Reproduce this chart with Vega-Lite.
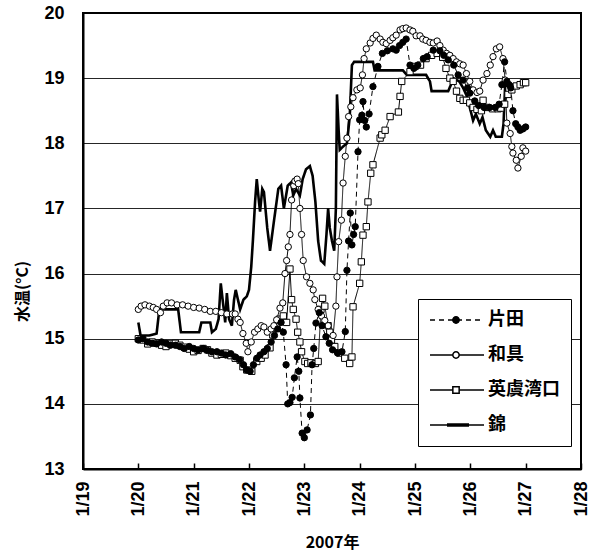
{
"$schema": "https://vega.github.io/schema/vega-lite/v6.json",
"width": 498, "height": 456,
"autosize": {"type": "none"},
"padding": {"left": 83, "top": 13, "right": 8, "bottom": 85},
"config": {"view": {"stroke": "black", "strokeWidth": 2}, "font": "Liberation Sans"},
"data": {"values": [
{"site":"錦","d":20.00,"t":15.25},{"site":"錦","d":20.04,"t":15.05},{"site":"錦","d":20.2,"t":15.05},{"site":"錦","d":20.33,"t":15.08},{"site":"錦","d":20.38,"t":15.45},{"site":"錦","d":20.72,"t":15.45},{"site":"錦","d":20.77,"t":15.1},{"site":"錦","d":21.1,"t":15.1},{"site":"錦","d":21.14,"t":15.25},{"site":"錦","d":21.3,"t":15.25},{"site":"錦","d":21.33,"t":15.1},{"site":"錦","d":21.4,"t":15.15},{"site":"錦","d":21.45,"t":15.3},{"site":"錦","d":21.49,"t":15.85},{"site":"錦","d":21.53,"t":15.55},{"site":"錦","d":21.57,"t":15.25},{"site":"錦","d":21.6,"t":15.7},{"site":"錦","d":21.64,"t":15.3},{"site":"錦","d":21.69,"t":15.2},{"site":"錦","d":21.73,"t":15.6},{"site":"錦","d":21.76,"t":15.75},{"site":"錦","d":21.8,"t":15.6},{"site":"錦","d":21.84,"t":15.45},{"site":"錦","d":21.9,"t":15.6},{"site":"錦","d":21.96,"t":15.65},{"site":"錦","d":22.0,"t":15.75},{"site":"錦","d":22.04,"t":16.1},{"site":"錦","d":22.07,"t":16.5},{"site":"錦","d":22.11,"t":17.1},{"site":"錦","d":22.14,"t":17.45},{"site":"錦","d":22.18,"t":17.1},{"site":"錦","d":22.2,"t":16.95},{"site":"錦","d":22.24,"t":17.3},{"site":"錦","d":22.27,"t":17.25},{"site":"錦","d":22.33,"t":16.7},{"site":"錦","d":22.38,"t":16.35},{"site":"錦","d":22.45,"t":16.8},{"site":"錦","d":22.53,"t":17.3},{"site":"錦","d":22.58,"t":17.35},{"site":"錦","d":22.63,"t":17.0},{"site":"錦","d":22.7,"t":17.35},{"site":"錦","d":22.76,"t":17.4},{"site":"錦","d":22.8,"t":17.2},{"site":"錦","d":22.85,"t":17.3},{"site":"錦","d":22.92,"t":17.2},{"site":"錦","d":22.97,"t":17.45},{"site":"錦","d":23.03,"t":17.6},{"site":"錦","d":23.1,"t":17.65},{"site":"錦","d":23.15,"t":17.5},{"site":"錦","d":23.2,"t":17.1},{"site":"錦","d":23.25,"t":16.5},{"site":"錦","d":23.3,"t":16.2},{"site":"錦","d":23.36,"t":16.15},{"site":"錦","d":23.4,"t":16.6},{"site":"錦","d":23.43,"t":17.0},{"site":"錦","d":23.46,"t":16.7},{"site":"錦","d":23.5,"t":16.5},{"site":"錦","d":23.54,"t":16.35},{"site":"錦","d":23.57,"t":17.0},{"site":"錦","d":23.59,"t":18.75},{"site":"錦","d":23.62,"t":18.2},{"site":"錦","d":23.64,"t":17.9},{"site":"錦","d":23.7,"t":17.95},{"site":"錦","d":23.77,"t":18.0},{"site":"錦","d":23.82,"t":18.4},{"site":"錦","d":23.86,"t":19.2},{"site":"錦","d":23.9,"t":19.25},{"site":"錦","d":24.24,"t":19.25},{"site":"錦","d":24.27,"t":19.12},{"site":"錦","d":24.78,"t":19.12},{"site":"錦","d":24.85,"t":19.05},{"site":"錦","d":25.2,"t":19.05},{"site":"錦","d":25.27,"t":18.95},{"site":"錦","d":25.3,"t":18.8},{"site":"錦","d":25.6,"t":18.8},{"site":"錦","d":25.65,"t":18.9},{"site":"錦","d":25.69,"t":19.0},{"site":"錦","d":25.8,"t":18.95},{"site":"錦","d":25.87,"t":18.85},{"site":"錦","d":25.95,"t":18.7},{"site":"錦","d":25.99,"t":18.55},{"site":"錦","d":26.05,"t":18.35},{"site":"錦","d":26.1,"t":18.45},{"site":"錦","d":26.17,"t":18.3},{"site":"錦","d":26.22,"t":18.4},{"site":"錦","d":26.28,"t":18.2},{"site":"錦","d":26.36,"t":18.1},{"site":"錦","d":26.41,"t":18.2},{"site":"錦","d":26.46,"t":18.1},{"site":"錦","d":26.57,"t":18.1},{"site":"錦","d":26.6,"t":18.3},{"site":"錦","d":26.63,"t":18.9},{"site":"錦","d":27.0,"t":18.9},
{"site":"英虞湾口","d":20.0,"t":15.0},{"site":"英虞湾口","d":20.08,"t":14.98},{"site":"英虞湾口","d":20.17,"t":14.92},{"site":"英虞湾口","d":20.25,"t":14.95},{"site":"英虞湾口","d":20.33,"t":14.93},{"site":"英虞湾口","d":20.42,"t":14.9},{"site":"英虞湾口","d":20.5,"t":14.88},{"site":"英虞湾口","d":20.58,"t":14.92},{"site":"英虞湾口","d":20.67,"t":14.93},{"site":"英虞湾口","d":20.75,"t":14.9},{"site":"英虞湾口","d":20.83,"t":14.87},{"site":"英虞湾口","d":20.92,"t":14.84},{"site":"英虞湾口","d":21.0,"t":14.8},{"site":"英虞湾口","d":21.08,"t":14.82},{"site":"英虞湾口","d":21.17,"t":14.85},{"site":"英虞湾口","d":21.25,"t":14.83},{"site":"英虞湾口","d":21.33,"t":14.78},{"site":"英虞湾口","d":21.42,"t":14.75},{"site":"英虞湾口","d":21.5,"t":14.76},{"site":"英虞湾口","d":21.58,"t":14.78},{"site":"英虞湾口","d":21.67,"t":14.74},{"site":"英虞湾口","d":21.75,"t":14.7},{"site":"英虞湾口","d":21.84,"t":14.67},{"site":"英虞湾口","d":21.89,"t":14.57},{"site":"英虞湾口","d":21.96,"t":14.52},{"site":"英虞湾口","d":22.05,"t":14.5},{"site":"英虞湾口","d":22.14,"t":14.65},{"site":"英虞湾口","d":22.22,"t":14.7},{"site":"英虞湾口","d":22.29,"t":14.75},{"site":"英虞湾口","d":22.38,"t":14.86},{"site":"英虞湾口","d":22.43,"t":15.06},{"site":"英虞湾口","d":22.5,"t":15.18},{"site":"英虞湾口","d":22.55,"t":15.3},{"site":"英虞湾口","d":22.62,"t":15.35},{"site":"英虞湾口","d":22.68,"t":15.25},{"site":"英虞湾口","d":22.74,"t":16.07},{"site":"英虞湾口","d":22.77,"t":15.6},{"site":"英虞湾口","d":22.8,"t":15.45},{"site":"英虞湾口","d":22.85,"t":15.3},{"site":"英虞湾口","d":22.88,"t":15.1},{"site":"英虞湾口","d":22.92,"t":14.95},{"site":"英虞湾口","d":22.95,"t":14.8},{"site":"英虞湾口","d":23.01,"t":14.65},{"site":"英虞湾口","d":23.06,"t":14.62},{"site":"英虞湾口","d":23.12,"t":14.63},{"site":"英虞湾口","d":23.2,"t":14.62},{"site":"英虞湾口","d":23.25,"t":14.65},{"site":"英虞湾口","d":23.3,"t":15.45},{"site":"英虞湾口","d":23.33,"t":15.62},{"site":"英虞湾口","d":23.37,"t":15.5},{"site":"英虞湾口","d":23.43,"t":15.2},{"site":"英虞湾口","d":23.46,"t":15.1},{"site":"英虞湾口","d":23.49,"t":14.98},{"site":"英虞湾口","d":23.55,"t":14.88},{"site":"英虞湾口","d":23.64,"t":14.78},{"site":"英虞湾口","d":23.73,"t":14.7},{"site":"英虞湾口","d":23.82,"t":14.62},{"site":"英虞湾口","d":23.86,"t":14.72},{"site":"英虞湾口","d":23.88,"t":15.49},{"site":"英虞湾口","d":24.0,"t":15.85},{"site":"英虞湾口","d":24.03,"t":16.18},{"site":"英虞湾口","d":24.06,"t":16.59},{"site":"英虞湾口","d":24.12,"t":16.72},{"site":"英虞湾口","d":24.15,"t":17.1},{"site":"英虞湾口","d":24.2,"t":17.54},{"site":"英虞湾口","d":24.24,"t":17.67},{"site":"英虞湾口","d":24.37,"t":18.08},{"site":"英虞湾口","d":24.4,"t":18.13},{"site":"英虞湾口","d":24.46,"t":18.2},{"site":"英虞湾口","d":24.55,"t":18.41},{"site":"英虞湾口","d":24.7,"t":18.48},{"site":"英虞湾口","d":24.73,"t":18.72},{"site":"英虞湾口","d":24.76,"t":18.95},{"site":"英虞湾口","d":24.91,"t":19.1},{"site":"英虞湾口","d":25.0,"t":19.18},{"site":"英虞湾口","d":25.1,"t":19.2},{"site":"英虞湾口","d":25.2,"t":19.3},{"site":"英虞湾口","d":25.3,"t":19.35},{"site":"英虞湾口","d":25.4,"t":19.38},{"site":"英虞湾口","d":25.5,"t":19.32},{"site":"英虞湾口","d":25.56,"t":19.15},{"site":"英虞湾口","d":25.63,"t":19.0},{"site":"英虞湾口","d":25.69,"t":18.95},{"site":"英虞湾口","d":25.75,"t":18.8},{"site":"英虞湾口","d":25.81,"t":18.69},{"site":"英虞湾口","d":25.87,"t":18.66},{"site":"英虞湾口","d":25.93,"t":18.66},{"site":"英虞湾口","d":25.99,"t":18.62},{"site":"英虞湾口","d":26.05,"t":18.55},{"site":"英虞湾口","d":26.12,"t":18.52},{"site":"英虞湾口","d":26.2,"t":18.5},{"site":"英虞湾口","d":26.23,"t":18.66},{"site":"英虞湾口","d":26.3,"t":18.55},{"site":"英虞湾口","d":26.4,"t":18.53},{"site":"英虞湾口","d":26.5,"t":18.53},{"site":"英虞湾口","d":26.55,"t":18.54},{"site":"英虞湾口","d":26.62,"t":18.6},{"site":"英虞湾口","d":26.68,"t":18.75},{"site":"英虞湾口","d":26.75,"t":18.82},{"site":"英虞湾口","d":26.83,"t":18.88},{"site":"英虞湾口","d":26.9,"t":18.9},{"site":"英虞湾口","d":26.96,"t":18.93},{"site":"英虞湾口","d":27.0,"t":18.93},
{"site":"和具","d":20.0,"t":15.45},{"site":"和具","d":20.05,"t":15.5},{"site":"和具","d":20.12,"t":15.52},{"site":"和具","d":20.2,"t":15.5},{"site":"和具","d":20.27,"t":15.48},{"site":"和具","d":20.33,"t":15.45},{"site":"和具","d":20.4,"t":15.4},{"site":"和具","d":20.45,"t":15.5},{"site":"和具","d":20.52,"t":15.55},{"site":"和具","d":20.6,"t":15.55},{"site":"和具","d":20.7,"t":15.52},{"site":"和具","d":20.8,"t":15.52},{"site":"和具","d":20.9,"t":15.5},{"site":"和具","d":21.0,"t":15.48},{"site":"和具","d":21.1,"t":15.47},{"site":"和具","d":21.2,"t":15.45},{"site":"和具","d":21.3,"t":15.42},{"site":"和具","d":21.4,"t":15.42},{"site":"和具","d":21.5,"t":15.4},{"site":"和具","d":21.6,"t":15.38},{"site":"和具","d":21.7,"t":15.38},{"site":"和具","d":21.75,"t":15.38},{"site":"和具","d":21.8,"t":15.3},{"site":"和具","d":21.84,"t":15.25},{"site":"和具","d":21.89,"t":15.08},{"site":"和具","d":21.95,"t":14.93},{"site":"和具","d":21.98,"t":14.8},{"site":"和具","d":22.04,"t":14.95},{"site":"和具","d":22.1,"t":15.1},{"site":"和具","d":22.16,"t":15.15},{"site":"和具","d":22.22,"t":15.2},{"site":"和具","d":22.27,"t":15.18},{"site":"和具","d":22.33,"t":15.1},{"site":"和具","d":22.4,"t":15.15},{"site":"和具","d":22.45,"t":15.2},{"site":"和具","d":22.5,"t":15.29},{"site":"和具","d":22.56,"t":15.47},{"site":"和具","d":22.61,"t":15.55},{"site":"和具","d":22.65,"t":16.0},{"site":"和具","d":22.68,"t":16.2},{"site":"和具","d":22.71,"t":16.41},{"site":"和具","d":22.74,"t":16.6},{"site":"和具","d":22.77,"t":17.13},{"site":"和具","d":22.81,"t":17.35},{"site":"和具","d":22.83,"t":17.42},{"site":"和具","d":22.87,"t":17.45},{"site":"和具","d":22.89,"t":17.38},{"site":"和具","d":22.92,"t":17.0},{"site":"和具","d":22.95,"t":16.6},{"site":"和具","d":22.98,"t":16.2},{"site":"和具","d":23.04,"t":15.95},{"site":"和具","d":23.1,"t":15.85},{"site":"和具","d":23.16,"t":15.75},{"site":"和具","d":23.19,"t":15.6},{"site":"和具","d":23.25,"t":15.45},{"site":"和具","d":23.31,"t":15.35},{"site":"和具","d":23.37,"t":15.28},{"site":"和具","d":23.43,"t":15.2},{"site":"和具","d":23.52,"t":15.05},{"site":"和具","d":23.57,"t":15.5},{"site":"和具","d":23.59,"t":15.95},{"site":"和具","d":23.62,"t":16.49},{"site":"和具","d":23.67,"t":16.82},{"site":"和具","d":23.7,"t":17.39},{"site":"和具","d":23.74,"t":17.8},{"site":"和具","d":23.77,"t":18.08},{"site":"和具","d":23.8,"t":18.41},{"site":"和具","d":23.84,"t":18.56},{"site":"和具","d":23.88,"t":18.7},{"site":"和具","d":23.95,"t":18.82},{"site":"和具","d":24.01,"t":18.85},{"site":"和具","d":24.05,"t":19.05},{"site":"和具","d":24.08,"t":19.3},{"site":"和具","d":24.12,"t":19.45},{"site":"和具","d":24.19,"t":19.54},{"site":"和具","d":24.24,"t":19.61},{"site":"和具","d":24.3,"t":19.66},{"site":"和具","d":24.37,"t":19.6},{"site":"和具","d":24.42,"t":19.55},{"site":"和具","d":24.48,"t":19.53},{"site":"和具","d":24.55,"t":19.58},{"site":"和具","d":24.6,"t":19.62},{"site":"和具","d":24.66,"t":19.66},{"site":"和具","d":24.73,"t":19.74},{"site":"和具","d":24.78,"t":19.76},{"site":"和具","d":24.84,"t":19.77},{"site":"和具","d":24.91,"t":19.74},{"site":"和具","d":24.96,"t":19.72},{"site":"和具","d":25.02,"t":19.65},{"site":"和具","d":25.09,"t":19.65},{"site":"和具","d":25.14,"t":19.6},{"site":"和具","d":25.2,"t":19.58},{"site":"和具","d":25.27,"t":19.55},{"site":"和具","d":25.33,"t":19.54},{"site":"和具","d":25.4,"t":19.57},{"site":"和具","d":25.45,"t":19.5},{"site":"和具","d":25.51,"t":19.43},{"site":"和具","d":25.57,"t":19.38},{"site":"和具","d":25.63,"t":19.35},{"site":"和具","d":25.69,"t":19.3},{"site":"和具","d":25.75,"t":19.25},{"site":"和具","d":25.81,"t":19.22},{"site":"和具","d":25.87,"t":19.2},{"site":"和具","d":25.93,"t":19.07},{"site":"和具","d":25.99,"t":18.95},{"site":"和具","d":26.05,"t":18.82},{"site":"和具","d":26.12,"t":18.78},{"site":"和具","d":26.17,"t":18.8},{"site":"和具","d":26.23,"t":18.97},{"site":"和具","d":26.3,"t":19.07},{"site":"和具","d":26.36,"t":19.2},{"site":"和具","d":26.41,"t":19.33},{"site":"和具","d":26.47,"t":19.45},{"site":"和具","d":26.53,"t":19.48},{"site":"和具","d":26.59,"t":19.3},{"site":"和具","d":26.63,"t":18.97},{"site":"和具","d":26.66,"t":18.31},{"site":"和具","d":26.72,"t":18.15},{"site":"和具","d":26.75,"t":17.95},{"site":"和具","d":26.77,"t":17.85},{"site":"和具","d":26.83,"t":17.74},{"site":"和具","d":26.86,"t":17.62},{"site":"和具","d":26.92,"t":17.8},{"site":"和具","d":26.95,"t":17.93},{"site":"和具","d":27.0,"t":17.88},
{"site":"片田","d":20.0,"t":14.98},{"site":"片田","d":20.08,"t":15.0},{"site":"片田","d":20.17,"t":14.95},{"site":"片田","d":20.25,"t":14.93},{"site":"片田","d":20.33,"t":14.92},{"site":"片田","d":20.42,"t":14.95},{"site":"片田","d":20.5,"t":14.93},{"site":"片田","d":20.58,"t":14.9},{"site":"片田","d":20.67,"t":14.9},{"site":"片田","d":20.75,"t":14.88},{"site":"片田","d":20.83,"t":14.85},{"site":"片田","d":20.92,"t":14.88},{"site":"片田","d":21.0,"t":14.85},{"site":"片田","d":21.08,"t":14.83},{"site":"片田","d":21.17,"t":14.85},{"site":"片田","d":21.25,"t":14.82},{"site":"片田","d":21.33,"t":14.8},{"site":"片田","d":21.42,"t":14.8},{"site":"片田","d":21.5,"t":14.78},{"site":"片田","d":21.58,"t":14.75},{"site":"片田","d":21.67,"t":14.77},{"site":"片田","d":21.75,"t":14.72},{"site":"片田","d":21.83,"t":14.68},{"site":"片田","d":21.9,"t":14.6},{"site":"片田","d":21.96,"t":14.52},{"site":"片田","d":22.02,"t":14.5},{"site":"片田","d":22.08,"t":14.6},{"site":"片田","d":22.14,"t":14.7},{"site":"片田","d":22.2,"t":14.75},{"site":"片田","d":22.27,"t":14.8},{"site":"片田","d":22.33,"t":14.85},{"site":"片田","d":22.4,"t":14.95},{"site":"片田","d":22.46,"t":15.05},{"site":"片田","d":22.52,"t":15.15},{"site":"片田","d":22.58,"t":15.25},{"site":"片田","d":22.62,"t":15.1},{"site":"片田","d":22.67,"t":14.6},{"site":"片田","d":22.7,"t":14.0},{"site":"片田","d":22.74,"t":14.02},{"site":"片田","d":22.78,"t":14.1},{"site":"片田","d":22.82,"t":14.4},{"site":"片田","d":22.87,"t":14.72},{"site":"片田","d":22.9,"t":14.5},{"site":"片田","d":22.92,"t":14.09},{"site":"片田","d":22.96,"t":13.55},{"site":"片田","d":23.0,"t":13.48},{"site":"片田","d":23.05,"t":13.6},{"site":"片田","d":23.11,"t":13.83},{"site":"片田","d":23.14,"t":14.6},{"site":"片田","d":23.17,"t":14.85},{"site":"片田","d":23.21,"t":15.24},{"site":"片田","d":23.27,"t":15.4},{"site":"片田","d":23.32,"t":15.2},{"site":"片田","d":23.39,"t":15.03},{"site":"片田","d":23.45,"t":14.93},{"site":"片田","d":23.51,"t":14.83},{"site":"片田","d":23.6,"t":14.78},{"site":"片田","d":23.68,"t":14.8},{"site":"片田","d":23.74,"t":15.11},{"site":"片田","d":23.77,"t":16.05},{"site":"片田","d":23.8,"t":16.5},{"site":"片田","d":23.83,"t":16.93},{"site":"片田","d":23.86,"t":16.44},{"site":"片田","d":23.89,"t":16.6},{"site":"片田","d":23.92,"t":16.72},{"site":"片田","d":23.97,"t":17.87},{"site":"片田","d":24.0,"t":18.36},{"site":"片田","d":24.04,"t":18.43},{"site":"片田","d":24.06,"t":18.64},{"site":"片田","d":24.09,"t":18.35},{"site":"片田","d":24.12,"t":18.25},{"site":"片田","d":24.17,"t":18.45},{"site":"片田","d":24.24,"t":18.87},{"site":"片田","d":24.33,"t":19.18},{"site":"片田","d":24.41,"t":19.38},{"site":"片田","d":24.5,"t":19.42},{"site":"片田","d":24.6,"t":19.45},{"site":"片田","d":24.66,"t":19.43},{"site":"片田","d":24.72,"t":19.5},{"site":"片田","d":24.78,"t":19.55},{"site":"片田","d":24.84,"t":19.6},{"site":"片田","d":24.91,"t":19.2},{"site":"片田","d":24.98,"t":19.15},{"site":"片田","d":25.05,"t":19.2},{"site":"片田","d":25.15,"t":19.3},{"site":"片田","d":25.22,"t":19.33},{"site":"片田","d":25.33,"t":19.43},{"site":"片田","d":25.45,"t":19.42},{"site":"片田","d":25.52,"t":19.35},{"site":"片田","d":25.6,"t":19.28},{"site":"片田","d":25.7,"t":19.2},{"site":"片田","d":25.78,"t":19.05},{"site":"片田","d":25.87,"t":18.97},{"site":"片田","d":25.95,"t":18.85},{"site":"片田","d":25.99,"t":18.77},{"site":"片田","d":26.08,"t":18.65},{"site":"片田","d":26.15,"t":18.58},{"site":"片田","d":26.25,"t":18.55},{"site":"片田","d":26.35,"t":18.55},{"site":"片田","d":26.45,"t":18.55},{"site":"片田","d":26.52,"t":18.6},{"site":"片田","d":26.57,"t":18.9},{"site":"片田","d":26.62,"t":19.25},{"site":"片田","d":26.66,"t":18.95},{"site":"片田","d":26.7,"t":18.9},{"site":"片田","d":26.73,"t":18.85},{"site":"片田","d":26.77,"t":18.5},{"site":"片田","d":26.82,"t":18.3},{"site":"片田","d":26.86,"t":18.25},{"site":"片田","d":26.9,"t":18.2},{"site":"片田","d":26.95,"t":18.22},{"site":"片田","d":27.0,"t":18.25}
]},
"encoding": {
  "x": {"field": "d", "type": "quantitative",
    "scale": {"domain": [19, 28], "nice": false, "zero": false},
    "axis": {"values": [19,20,21,22,23,24,25,26,27,28], "labelExpr": "'1/' + datum.value", "labelAngle": -90, "labelAlign": "right", "labelBaseline": "middle", "labelPadding": 18, "tickSize": -6, "tickColor": "black", "tickWidth": 1.5, "grid": false, "domainColor": "black", "domainWidth": 2, "labelFont": "Liberation Sans Narrow, Liberation Sans", "labelFontWeight": "bold", "labelFontSize": 18, "labelColor": "black", "labelFlush": false, "labelOverlap": false, "title": "2007年", "titleFont": "Noto Sans CJK JP", "titleFontSize": 16, "titleFontWeight": "bold", "titleColor": "black", "titlePadding": 18}},
  "y": {"field": "t", "type": "quantitative",
    "scale": {"domain": [13, 20], "nice": false, "zero": false},
    "axis": {"values": [13,14,15,16,17,18,19,20], "grid": true, "gridColor": "black", "gridWidth": 1, "gridOpacity": 0.85, "tickSize": 0, "labelPadding": 19, "domainColor": "black", "domainWidth": 2, "labelFont": "Liberation Sans Narrow, Liberation Sans", "labelFontWeight": "bold", "labelFontSize": 18, "labelColor": "black", "labelFlush": false, "title": "水温(°C)", "titleFont": "Noto Sans CJK JP", "titleFontSize": 16, "titleFontWeight": "bold", "titleColor": "black", "titleX": -61, "titleY": 278, "titleAngle": -90, "titleAlign": "center", "titleBaseline": "middle"}}
},
"layer": [
{"mark": {"type": "line", "color": "black"},
 "encoding": {
  "strokeWidth": {"condition": {"test": "datum.site === '錦'", "value": 2.6}, "value": 1},
  "strokeDash": {"field": "site", "type": "nominal", "sort": ["片田","和具","英虞湾口","錦"],
    "scale": {"range": [[5,4],[1,0],[1,0],[1,0]]},
    "legend": {"orient": "none", "legendX": 335, "legendY": 286, "title": null, "symbolType": "stroke", "symbolSize": 2916, "clipHeight": 20, "rowPadding": 15, "padding": 11, "symbolOffset": 0, "strokeColor": "black", "fillColor": "white", "labelFont": "Noto Sans CJK JP", "labelFontSize": 18, "labelFontWeight": "bold", "labelColor": "black", "labelOffset": 3, "zindex": 1,
      "encode": {"symbols": {"stroke": {"value": "black"}}}}}
 }},
{"transform": [{"filter": "datum.site !== '錦'"}],
 "mark": {"type": "point", "filled": true, "stroke": "black", "strokeWidth": 1, "opacity": 1, "size": 40},
 "encoding": {
  "shape": {"field": "site", "type": "nominal",
    "scale": {"domain": ["片田","和具","英虞湾口","錦"], "range": ["circle","circle","square","M-11.3,-0.35H11.3V0.35H-11.3Z"]},
    "legend": {"orient": "none", "legendX": 353, "legendY": 286, "title": null, "clipHeight": 20, "rowPadding": 15, "padding": 11, "symbolOffset": 0, "symbolSize": 40, "labelFontSize": 18, "labelExpr": "''", "zindex": 2}},
  "fill": {"field": "site", "type": "nominal",
    "scale": {"domain": ["片田","和具","英虞湾口","錦"], "range": ["black","white","white","black"]},
    "legend": {"orient": "none", "legendX": 353, "legendY": 286, "title": null, "clipHeight": 20, "rowPadding": 15, "padding": 11, "symbolOffset": 0, "symbolSize": 40, "labelFontSize": 18, "labelExpr": "''", "zindex": 2}}
 }}
]
}
